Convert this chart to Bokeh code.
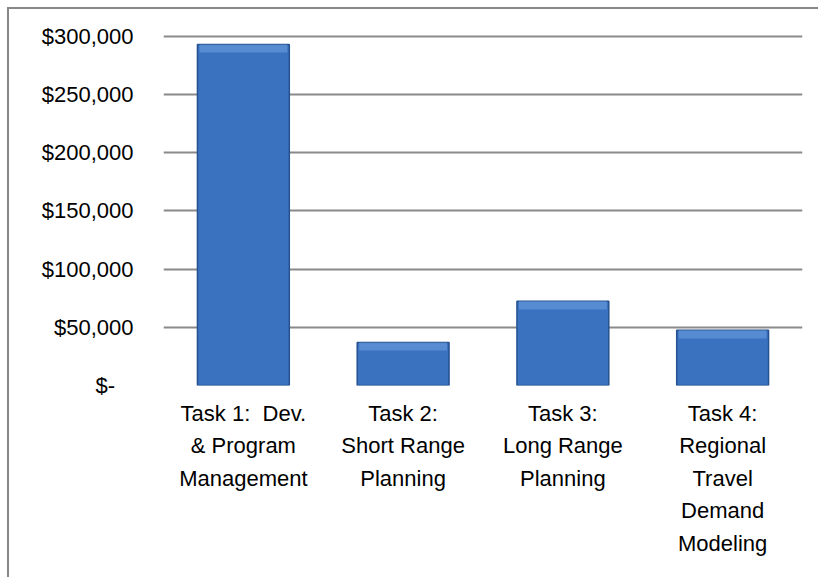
from bokeh.plotting import figure
from bokeh.models import Range1d, FactorRange, FixedTicker, NumeralTickFormatter, ColumnDataSource
from bokeh.embed import file_html
from bokeh.resources import INLINE

# ---- data ----
categories = [
    "Task 1:\u00a0 Dev.\n& Program\nManagement",
    "Task 2:\nShort Range\nPlanning",
    "Task 3:\nLong Range\nPlanning",
    "Task 4:\nRegional\nTravel\nDemand\nModeling",
]
expenditures = [293000, 37000, 72300, 47400]
y_ticks = [0, 50000, 100000, 150000, 200000, 250000, 300000]

highlight = [v - 7000 for v in expenditures]
src = ColumnDataSource(dict(cat=categories, top=expenditures, hl=highlight))

p = figure(
    width=811, height=570,
    x_range=FactorRange(*categories, range_padding=0),
    y_range=Range1d(0, 301500),
    output_backend="svg", toolbar_location=None,
    min_border_left=154, min_border_right=18,
    min_border_top=25, min_border_bottom=194,
)
p.margin = (7, 0, 0, 7)
p.styles = {"border-top": "2px solid #878787", "border-left": "2px solid #878787"}
p.background_fill_color = "white"
p.border_fill_color = "white"
p.outline_line_color = None

p.vbar(x="cat", top="top", width=0.575, source=src,
       fill_color="#3a72c0", line_color="#25518f", line_width=1.5)
p.vbar(x="cat", top="top", bottom="hl", width=0.55, source=src,
       fill_color="#6a9fe0", fill_alpha=0.6, line_color=None)

# grid
p.xgrid.grid_line_color = None
p.ygrid.grid_line_color = "#8a8a8a"
p.ygrid.grid_line_width = 1.8
p.ygrid.ticker = FixedTicker(ticks=y_ticks)

# y axis
p.yaxis.ticker = FixedTicker(ticks=y_ticks)
p.yaxis.formatter = NumeralTickFormatter(format="$0,0")
p.yaxis.major_label_overrides = {0: "$-\u00a0\u00a0\u00a0"}
p.yaxis.axis_line_color = None
p.yaxis.major_tick_line_color = None
p.yaxis.minor_tick_line_color = None
p.yaxis.major_tick_out = 0
p.yaxis.major_label_standoff = 30
p.yaxis.major_label_text_font = "Liberation Sans"
p.yaxis.major_label_text_font_size = "22px"
p.yaxis.major_label_text_color = "black"

# x axis
p.xaxis.axis_line_color = None
p.xaxis.major_tick_line_color = None
p.xaxis.minor_tick_line_color = None
p.xaxis.major_tick_out = 0
p.xaxis.major_label_standoff = 15
p.xaxis.major_label_text_font = "Liberation Sans"
p.xaxis.major_label_text_font_size = "22px"
p.xaxis.major_label_text_color = "black"
p.xaxis.major_label_text_line_height = 1.3

open("out.html", "w").write(file_html(p, INLINE))
